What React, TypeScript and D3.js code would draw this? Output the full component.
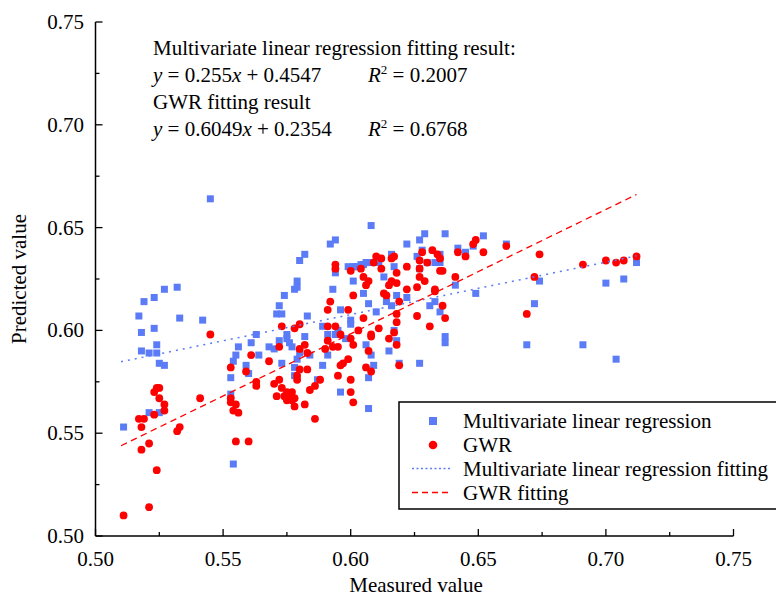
import React from "react";
import * as d3 from "d3";

// Multivariate linear regression (blue squares)
const mlrX = [0.511,0.517,0.518,0.518,0.519,0.521,0.521,0.523,0.523,0.524,0.524,0.525,0.525,0.527,0.527,0.532,0.533,0.542,0.545,0.554,0.553,0.554,0.555,0.556,0.553,0.559,0.560,0.561,0.563,0.564,0.568,0.570,0.571,0.572,0.573,0.572,0.573,0.574,0.575,0.575,0.576,0.577,0.578,0.579,0.579,0.579,0.578,0.578,0.580,0.582,0.580,0.582,0.583,0.584,0.587,0.589,0.589,0.591,0.591,0.592,0.593,0.594,0.594,0.594,0.595,0.596,0.596,0.598,0.599,0.600,0.600,0.601,0.601,0.602,0.603,0.604,0.605,0.606,0.607,0.605,0.607,0.606,0.607,0.607,0.608,0.608,0.609,0.610,0.611,0.613,0.614,0.615,0.616,0.616,0.617,0.617,0.618,0.618,0.619,0.622,0.622,0.626,0.627,0.627,0.627,0.628,0.629,0.630,0.631,0.633,0.633,0.635,0.635,0.635,0.637,0.637,0.637,0.641,0.642,0.645,0.648,0.649,0.652,0.661,0.669,0.672,0.674,0.691,0.700,0.704,0.707,0.712];
const mlrY = [0.553,0.607,0.599,0.590,0.614,0.589,0.560,0.616,0.601,0.593,0.589,0.560,0.584,0.583,0.620,0.621,0.606,0.605,0.664,0.535,0.577,0.585,0.588,0.592,0.569,0.583,0.579,0.594,0.598,0.588,0.592,0.591,0.608,0.612,0.608,0.595,0.584,0.617,0.598,0.596,0.594,0.592,0.620,0.621,0.624,0.586,0.582,0.578,0.634,0.637,0.589,0.597,0.607,0.588,0.576,0.583,0.602,0.588,0.598,0.642,0.620,0.628,0.644,0.598,0.600,0.610,0.570,0.596,0.631,0.605,0.603,0.631,0.624,0.631,0.631,0.632,0.632,0.633,0.633,0.618,0.613,0.593,0.577,0.562,0.651,0.588,0.583,0.609,0.633,0.626,0.614,0.590,0.612,0.637,0.631,0.600,0.617,0.595,0.584,0.616,0.642,0.636,0.584,0.644,0.630,0.639,0.647,0.633,0.612,0.614,0.633,0.633,0.637,0.609,0.647,0.597,0.594,0.622,0.640,0.638,0.641,0.618,0.646,0.642,0.593,0.613,0.624,0.593,0.623,0.586,0.625,0.633];

// GWR (red circles)
const gwrX = [0.511,0.517,0.519,0.518,0.518,0.521,0.521,0.523,0.523,0.524,0.525,0.525,0.524,0.527,0.527,0.532,0.533,0.541,0.545,0.553,0.553,0.553,0.554,0.555,0.555,0.556,0.560,0.559,0.561,0.563,0.563,0.568,0.570,0.571,0.572,0.572,0.573,0.573,0.574,0.575,0.575,0.576,0.577,0.577,0.578,0.578,0.578,0.579,0.579,0.580,0.580,0.580,0.582,0.582,0.583,0.583,0.584,0.586,0.586,0.588,0.590,0.591,0.591,0.591,0.592,0.593,0.594,0.594,0.594,0.595,0.595,0.596,0.597,0.596,0.599,0.600,0.600,0.600,0.599,0.600,0.601,0.601,0.601,0.603,0.604,0.605,0.605,0.606,0.606,0.607,0.607,0.608,0.608,0.608,0.609,0.610,0.611,0.612,0.612,0.613,0.614,0.615,0.615,0.616,0.616,0.617,0.617,0.618,0.618,0.618,0.618,0.618,0.619,0.619,0.622,0.622,0.626,0.626,0.627,0.627,0.627,0.628,0.629,0.630,0.631,0.632,0.633,0.633,0.634,0.635,0.635,0.636,0.637,0.636,0.641,0.642,0.645,0.648,0.649,0.652,0.661,0.669,0.672,0.674,0.691,0.700,0.704,0.707,0.712];
const gwrY = [0.510,0.557,0.557,0.553,0.542,0.545,0.514,0.559,0.570,0.572,0.572,0.567,0.532,0.564,0.561,0.551,0.553,0.567,0.598,0.582,0.567,0.565,0.561,0.564,0.546,0.560,0.546,0.580,0.588,0.573,0.575,0.585,0.574,0.568,0.592,0.576,0.602,0.572,0.568,0.570,0.566,0.568,0.570,0.566,0.563,0.567,0.601,0.576,0.578,0.603,0.591,0.581,0.593,0.564,0.581,0.589,0.571,0.573,0.557,0.576,0.591,0.602,0.595,0.610,0.614,0.592,0.632,0.630,0.602,0.592,0.578,0.583,0.584,0.598,0.586,0.576,0.570,0.629,0.610,0.596,0.593,0.565,0.617,0.600,0.630,0.626,0.606,0.622,0.582,0.590,0.624,0.598,0.597,0.580,0.633,0.636,0.601,0.635,0.630,0.618,0.617,0.622,0.596,0.635,0.624,0.636,0.599,0.623,0.628,0.608,0.604,0.593,0.583,0.614,0.620,0.631,0.621,0.607,0.634,0.626,0.630,0.638,0.624,0.633,0.602,0.639,0.620,0.619,0.637,0.629,0.635,0.612,0.606,0.629,0.626,0.638,0.636,0.642,0.644,0.638,0.641,0.608,0.626,0.637,0.632,0.634,0.633,0.634,0.636];

// Fitting lines: [slope, intercept]
const mlrFit = [0.255, 0.4547];
const gwrFit = [0.6049, 0.2354];
const fitRange = [0.51, 0.712];

const xTicks = [0.5, 0.55, 0.6, 0.65, 0.7, 0.75];
const yTicks = [0.5, 0.55, 0.6, 0.65, 0.7, 0.75];
const minorTicks = [0.525, 0.575, 0.625, 0.675, 0.725];

const BLUE = "#5b7cf6";
const RED = "#ff0000";
const FONT = '"Liberation Serif", "Times New Roman", Times, serif';

export default function App() {
  const x = d3.scaleLinear().domain([0.5, 0.75]).range([95.5, 733.5]);
  const y = d3.scaleLinear().domain([0.5, 0.75]).range([536, 22]);
  const fmt = d3.format(".2f");
  const n = Math.min(gwrX.length, gwrY.length);
  const fitLine = (f: number[]) =>
    d3.line<number>().x((v) => x(v)).y((v) => y(f[0] * v + f[1]))(fitRange) || "";
  const fs = 21;
  const ts = { fontFamily: FONT, fontSize: fs };

  return (
    <svg
      width={776}
      height={597}
      style={{ position: "absolute", left: 0, top: 0, background: "#fff", fontFamily: FONT }}
    >
      <rect width={776} height={597} fill="#fff" />
      {/* points */}
      {mlrX.map((v, i) => (
        <rect key={"b" + i} x={x(v) - 3.5} y={y(mlrY[i]) - 3.5} width={7} height={7} fill={BLUE} />
      ))}
      {gwrX.slice(0, n).map((v, i) => (
        <circle key={"r" + i} cx={x(v)} cy={y(gwrY[i])} r={3.9} fill={RED} />
      ))}
      {/* fit lines */}
      <path d={fitLine(mlrFit)} stroke={BLUE} strokeWidth={1.5} strokeDasharray="2,5" fill="none" />
      <path d={fitLine(gwrFit)} stroke={RED} strokeWidth={1.3} strokeDasharray="6.5,4.5" fill="none" />

      {/* axes */}
      <line x1={x(0.5)} x2={x(0.75)} y1={y(0.5)} y2={y(0.5)} stroke="#000" strokeWidth={1.5} />
      <line x1={x(0.5)} x2={x(0.5)} y1={y(0.5)} y2={y(0.75)} stroke="#000" strokeWidth={1.5} />
      {xTicks.map((t) => (
        <g key={"xt" + t}>
          <line x1={x(t)} x2={x(t)} y1={y(0.5)} y2={y(0.5) - 7} stroke="#000" strokeWidth={1.3} />
          <text x={x(t)} y={566} textAnchor="middle" style={ts}>{fmt(t)}</text>
        </g>
      ))}
      {minorTicks.map((t) => (
        <line key={"xm" + t} x1={x(t)} x2={x(t)} y1={y(0.5)} y2={y(0.5) - 4} stroke="#000" strokeWidth={1.3} />
      ))}
      {yTicks.map((t) => (
        <g key={"yt" + t}>
          <line x1={x(0.5)} x2={x(0.5) + 7} y1={y(t)} y2={y(t)} stroke="#000" strokeWidth={1.3} />
          <text x={84} y={y(t) + 7} textAnchor="end" style={ts}>{fmt(t)}</text>
        </g>
      ))}
      {minorTicks.map((t) => (
        <line key={"ym" + t} x1={x(0.5)} x2={x(0.5) + 4} y1={y(t)} y2={y(t)} stroke="#000" strokeWidth={1.3} />
      ))}
      <text x={416} y={592} textAnchor="middle" style={ts}>Measured value</text>
      <text transform="translate(26,279) rotate(-90)" textAnchor="middle" style={ts}>Predicted value</text>

      {/* annotation */}
      <g style={ts}>
        <text x={153} y={55} style={ts}>Multivariate linear regression fitting result:</text>
        <text x={153} y={82} style={ts}>
          <tspan fontStyle="italic">y</tspan> = 0.255<tspan fontStyle="italic">x</tspan> + 0.4547
        </text>
        <text x={368} y={82} style={ts}>
          <tspan fontStyle="italic">R</tspan>
          <tspan dy={-8} style={{ fontSize: 13 }}>2</tspan>
          <tspan dy={8}> = 0.2007</tspan>
        </text>
        <text x={153} y={109} style={ts}>GWR fitting result</text>
        <text x={153} y={136} style={ts}>
          <tspan fontStyle="italic">y</tspan> = 0.6049<tspan fontStyle="italic">x</tspan> + 0.2354
        </text>
        <text x={368} y={136} style={ts}>
          <tspan fontStyle="italic">R</tspan>
          <tspan dy={-8} style={{ fontSize: 13 }}>2</tspan>
          <tspan dy={8}> = 0.6768</tspan>
        </text>
      </g>

      {/* legend */}
      <g>
        <rect x={399} y={402} width={400} height={107} fill="#fff" stroke="#000" strokeWidth={1.5} />
        <rect x={433 - 4} y={421 - 4} width={8} height={8} fill={BLUE} />
        <circle cx={433} cy={445} r={4.3} fill={RED} />
        <line x1={412} x2={452} y1={468.5} y2={468.5} stroke={BLUE} strokeWidth={1.5} strokeDasharray="2,2.5" />
        <line x1={412} x2={452} y1={492.5} y2={492.5} stroke={RED} strokeWidth={1.3} strokeDasharray="6,4" />
        <text x={463} y={428} style={ts}>Multivariate linear regression</text>
        <text x={463} y={452} style={ts}>GWR</text>
        <text x={463} y={476} style={ts}>Multivariate linear regression fitting</text>
        <text x={463} y={500} style={ts}>GWR fitting</text>
      </g>
    </svg>
  );
}
